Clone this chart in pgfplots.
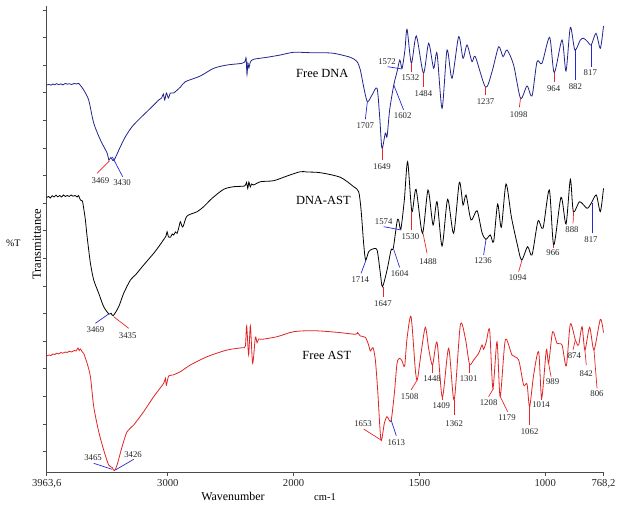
\documentclass[border=0pt]{standalone}
\usepackage{fontspec}
\setmainfont{Liberation Serif}
\usepackage{pgfplots}
\pgfplotsset{compat=1.18}
\definecolor{dnablue}{RGB}{35,35,140}
\definecolor{astred}{RGB}{225,35,35}
\definecolor{annred}{RGB}{230,40,40}
\definecolor{annblue}{RGB}{40,40,210}
\tikzset{lbl/.style={font=\fontsize{8.8}{10}\selectfont, inner sep=0pt, text=black!85},
         ttl/.style={font=\fontsize{12.5}{14}\selectfont, inner sep=0pt}}
\newcommand\ann[8]{\draw[#1,line width=0.7bp] (axis cs:#2,#3) -- (axis cs:#4,#5); \node[lbl] at (axis cs:#6,#7) {#8};}
\begin{document}
\begin{tikzpicture}
\path[use as bounding box] (-46.7bp,-34bp) rectangle (575.3bp,472bp);
\begin{axis}[
  at={(0,0)}, anchor=south west,
  scale only axis, width=556.8bp, height=466.3bp,
  x coord trafo/.code={\pgfmathparse{(2000-#1)*(1+(#1<2000))}},
  xmin=3963.6, xmax=768.2, ymin=0, ymax=466.3,
  axis lines=left, axis line style={-, black!70, line width=0.9bp},
  xtick={3963.6,3000,2000,1500,1000,768.2},
  xticklabels={{3963,6},3000,2000,1500,1000,{768,2}},
  ytick={20.4,48,75.6,103.2,130.8,158.4,186,213.6,241.2,268.8,296.4,324,351.6,379.2,406.8,434.4,462},
  yticklabels={},
  tick align=outside, major tick length=4bp,
  tick style={black!70, line width=0.8bp},
  ticklabel style={font=\fontsize{10.7}{12}\selectfont, text=black!85},
  /pgf/number format/assume math mode=true,
  clip=false,
]
% Free DNA
\addplot[dnablue, line width=0.8bp, smooth, tension=0.45] coordinates {
(3963.6,387)(3945,387.6)(3930,386.8)(3915,388)(3900,387.2)(3885,388.3)(3870,387.4)(3850,388.1)(3835,387.1)(3815,388.6)(3800,387.8)(3785,388.3)(3765,387.5)(3745,388.5)(3725,388)(3711,388.7)(3695,386.5)(3669.5,382)(3629.8,372)(3590,349)(3536.7,332)(3483.5,319)(3469,312)(3453,314.5)(3430,311.5)(3377.7,325.3)(3338,335.3)(3284.7,345.3)(3218.7,354)(3125.7,365.3)(3073,372)(3050,374)(3036,378)(3025,372)(3012,379)(2996,374)(2980,379)(2954,379)(2900,385)(2861,390.3)(2741.7,396)(2636,403.7)(2529.5,407)(2410,408.7)(2385,411)(2378,414)(2371,397.5)(2364,409)(2356,404)(2344,410)(2318,412.7)(2211.5,414.7)(2105.7,417)(2000,419.7)(1933.6,419.3)(1893.9,419.3)(1841,418.7)(1774.6,414.7)(1748,410.3)(1734.9,402)(1721.8,385.3)(1707,370.3)(1688.4,377)(1668.5,383.7)(1658,355.3)(1649,323.7)(1635.5,339)(1628.7,335.3)(1618.4,362)(1602,387)(1589,400.3)(1578,412)(1569,403.7)(1557.6,422)(1549.2,442.7)(1532,408.7)(1512.3,436)(1484,398.7)(1463.4,428.7)(1443.5,403.7)(1430,418.7)(1410,363.7)(1390.2,422)(1370.4,393.7)(1344,435.3)(1326.6,413.7)(1310.7,427)(1290.9,410.3)(1277.7,415.3)(1237,384.7)(1211.4,400.3)(1185,425.3)(1167.7,415.3)(1151.7,422)(1125.5,407)(1098,373.7)(1072.2,386)(1052.4,376)(1032.5,410.3)(1012.6,408.7)(982.4,434.7)(964,399.3)(933.1,432)(917.2,401)(900,444.7)(882,422)(860.4,432)(847.2,433.7)(831.3,430.3)(817,427)(798,438.7)(780.8,423.7)(768.2,446)
};
% DNA-AST
\addplot[black, line width=0.8bp, smooth, tension=0.45] coordinates {
(3963.6,274.5)(3948,275.5)(3935,274)(3920,276.3)(3905,275)(3890,276.8)(3875,275.2)(3860,276.5)(3845,275)(3830,277)(3815,275.5)(3800,276.5)(3785,275.5)(3770,277)(3755,275.8)(3738,276.5)(3722,275)(3710,276.5)(3695.7,272)(3680,271)(3669.5,263.7)(3656,252)(3642.2,235.3)(3616,208.7)(3589.5,192)(3550,178.7)(3510.5,165.3)(3469,158)(3451.7,158.7)(3435,156.3)(3391,165.3)(3351.5,178.7)(3298,192)(3258.5,197)(3192.5,207)(3113,218.7)(3073,225.3)(3036,232)(3015,236)(3006.5,240.3)(2995,235)(2980,234.7)(2965,238)(2954,237)(2940,240)(2927,238.7)(2910,246)(2900.7,250.3)(2885,245)(2874.5,247)(2847.5,256)(2768,260.3)(2715.5,265.3)(2648.7,273.7)(2556.5,282.7)(2477,285.3)(2390,286)(2375,289.5)(2365,283.5)(2356,290)(2345,285)(2335,288)(2318,287)(2264.7,290.3)(2159,291.3)(2052.5,296)(1973.4,300.3)(1946.7,300)(1893.9,299.3)(1814.4,294.7)(1761.5,285.3)(1741.6,280.3)(1732,262)(1721.8,228.7)(1714,212)(1701.9,220.3)(1688.4,222.7)(1668.5,222)(1655.4,198.7)(1647,185.3)(1628.7,202)(1612.8,222)(1604,223.7)(1589,250.3)(1582.6,252)(1574,242.7)(1560,272)(1546.9,310.3)(1530,260.3)(1513.5,282.7)(1488,238.7)(1465.8,282)(1445.9,247)(1430,270.3)(1410,226)(1387.8,272.7)(1364,238.7)(1341.3,289.7)(1326.6,267)(1314.7,277)(1294.8,252)(1271,261.3)(1251.1,239.3)(1236,232.7)(1218.1,237)(1205,230.3)(1189.1,268)(1174.4,244.7)(1155.7,288)(1134.6,255.3)(1112,228.7)(1094,212)(1069.9,225.3)(1052.4,217)(1028.5,251)(1008.7,243.7)(983.6,282)(966,227)(937.1,274.7)(917.2,248)(900,292.7)(888,260.3)(863.1,270.3)(833.7,263.7)(817,268.7)(796.8,277)(780.8,260.3)(768.2,283.7)
};
% Free AST
\addplot[astred, line width=0.8bp, smooth, tension=0.45] coordinates {
(3963.6,116)(3945,117)(3930,116.5)(3915,118)(3900,117.5)(3885,118.8)(3870,118)(3850,119.5)(3835,118.8)(3815,120)(3800,119.5)(3785,120.8)(3765,120)(3745,121.5)(3730,121)(3715,124)(3705,121.5)(3695.7,123)(3680,120)(3669.5,118.7)(3642.2,108.7)(3616,95.3)(3589.5,65.3)(3550,40.3)(3510.5,22)(3471,7)(3444,4.7)(3425.5,1.3)(3404,7)(3364.2,25.3)(3324.5,40.3)(3272,47)(3192.5,60.3)(3113,75.3)(3033.5,88.7)(3020,93.7)(3012,87)(2994,96)(2960,97)(2900.7,100.3)(2821,107)(2688.5,115.3)(2529.5,122)(2410,124.3)(2384,126)(2373.7,146)(2357.8,117)(2344.3,146)(2326,108.7)(2304.5,134.7)(2291,129.3)(2278,133)(2251,132.7)(2132,135.3)(2000,140.3)(1920.5,141.3)(1827.5,139.7)(1754.7,137.7)(1745.6,139.3)(1735,136)(1715,134.7)(1701.9,127)(1695,121)(1684.4,124.3)(1675.2,112)(1666,82)(1653,32)(1639.5,48.7)(1628.7,55.3)(1613,51)(1599.7,78.7)(1589,108.7)(1578.6,113.7)(1569,111)(1558.8,106)(1549.2,133.7)(1533.3,155.3)(1516.2,102)(1508,92.7)(1493.6,118.7)(1476.5,144.7)(1463.4,123.7)(1448,107)(1430,129.7)(1409,74.7)(1383.9,123.7)(1362,72)(1337.4,147)(1317.5,133.7)(1301,108)(1284.5,112)(1264.6,118.7)(1251.1,127)(1244.8,122.7)(1234,130.3)(1220.9,142)(1208,83.7)(1191.5,130.3)(1179,75.3)(1158.5,132)(1131.9,117)(1105.6,112)(1085.8,87)(1072.2,88)(1062,65.3)(1046,97)(1026.1,120.3)(1014,73.7)(995.5,122)(986.4,108.7)(970.5,140.3)(953,128.7)(933.1,127)(916,106)(900,148)(880,132)(867.1,127)(853.6,145.3)(842,122)(823.4,144.7)(806,122)(780.8,152.7)(768.2,139.3)
};
% sample names
\node[ttl] at (axis cs:1885.9,398.7) {Free DNA};
\node[ttl] at (axis cs:1882,272) {DNA-AST};
\node[ttl] at (axis cs:1868,117) {Free AST};
% Free DNA peaks
\ann{annred}{3462.8}{311.3}{3563}{298.7}{3536.7}{291}{3469}
\ann{annblue}{3441.3}{315}{3359.5}{295.3}{3364.2}{289.3}{3430}
\ann{annblue}{1707}{370.3}{1715}{352.7}{1715}{346}{1707}
\ann{annred}{1649}{323.7}{1649}{312}{1649}{305.3}{1649}
\ann{annblue}{1602}{387}{1562.8}{362}{1566.7}{356}{1602}
\ann{annblue}{1626.4}{405.3}{1569}{403}{1628.7}{410}{1572}
\ann{annred}{1533}{408.7}{1533}{400.3}{1536}{394.3}{1532}
\ann{annred}{1484}{398.7}{1484}{385.3}{1484}{378}{1484}
\ann{annred}{1237}{384.7}{1237}{377}{1237}{370.3}{1237}
\ann{annred}{1098}{373.7}{1102.8}{364.7}{1105.6}{357.7}{1098}
\ann{annred}{964}{399.3}{964}{390.3}{966.5}{383.7}{964}
\ann{annblue}{880}{422}{880}{392}{880}{385.3}{882}
\ann{annblue}{817}{427}{817}{405.3}{820.6}{399.3}{817}
% DNA-AST peaks
\ann{annblue}{3470.8}{158}{3576.5}{148.7}{3576.5}{142}{3469}
\ann{annred}{3431}{155.3}{3311.8}{143.7}{3319.7}{136}{3435}
\ann{annblue}{1712.2}{212}{1732}{198.7}{1734.9}{192.7}{1714}
\ann{annred}{1645}{185.3}{1645}{175.3}{1645}{168.7}{1647}
\ann{annblue}{1602.5}{222.7}{1578.7}{204.7}{1578.7}{198}{1604}
\ann{annblue}{1642.3}{245.3}{1572}{242}{1642.3}{250.3}{1574}
\ann{annred}{1533.3}{260.3}{1533.3}{242}{1536}{235.3}{1530}
\ann{annred}{1485.6}{238.7}{1469.7}{218.7}{1465.8}{210.3}{1488}
\ann{annblue}{1235.2}{232.7}{1244.8}{217}{1247.1}{211}{1236}
\ann{annred}{1092.1}{212}{1105.6}{200.3}{1109.6}{194.3}{1094}
\ann{annred}{966}{227}{966}{224}{969}{219.3}{966}
\ann{annred}{887}{260.3}{889.4}{248.7}{893.4}{242}{888}
\ann{annblue}{813.9}{268.7}{813.9}{238.7}{817.8}{232.7}{817}
% Free AST peaks
\ann{annblue}{3443.7}{2.7}{3590}{8.7}{3594.8}{14.5}{3465}
\ann{annblue}{3417.5}{2}{3272}{12.7}{3276.8}{17.7}{3426}
\ann{annred}{1653}{32}{1721.8}{43}{1724.1}{48}{1653}
\ann{annblue}{1612.8}{52}{1591.8}{36.3}{1591.8}{29.3}{1613}
\ann{annred}{1507.1}{92.7}{1533.3}{82}{1538.9}{75.3}{1508}
\ann{annred}{1449.9}{107}{1449.9}{98.7}{1449.9}{93.3}{1448}
\ann{annred}{1409.3}{74.7}{1409.3}{72}{1412.9}{66}{1409}
\ann{annred}{1361.6}{72}{1361.6}{57}{1361.6}{48}{1362}
\ann{annred}{1302.8}{108}{1302.8}{99}{1304.4}{93.3}{1301}
\ann{annred}{1205}{83.7}{1224.9}{75.3}{1224.9}{69.3}{1208}
\ann{annred}{1178.4}{75.3}{1149.4}{60.3}{1151.7}{54.7}{1179}
\ann{annred}{1061.9}{65.3}{1061.9}{47}{1061.9}{40.3}{1062}
\ann{annred}{1014}{73.7}{1014}{72}{1016.6}{67.7}{1014}
\ann{annred}{986.4}{108.7}{976.8}{95.3}{970.5}{90}{989}
\ann{annred}{880.2}{132}{889.4}{122}{884.2}{116}{874}
\ann{annred}{842.1}{122}{836.6}{107}{836.6}{98}{842}
\ann{annred}{806}{122}{794}{83.7}{794}{78}{806}
% axis texts
\node[font=\fontsize{12}{14}\selectfont, inner sep=0pt, yshift=-24bp] at (axis description cs:0.3346,0) {Wavenumber};
\node[font=\fontsize{10.5}{12}\selectfont, inner sep=0pt, yshift=-24.7bp] at (axis description cs:0.4998,0) {cm-1};
\node[font=\fontsize{12.5}{14}\selectfont, inner sep=0pt, xshift=-10bp, rotate=90] at (axis description cs:0,0.489) {Transmittance};
\node[font=\fontsize{10}{12}\selectfont, inner sep=0pt, xshift=-33.4bp] at (axis description cs:0,0.49) {\%T};
\end{axis}
\end{tikzpicture}
\end{document}
